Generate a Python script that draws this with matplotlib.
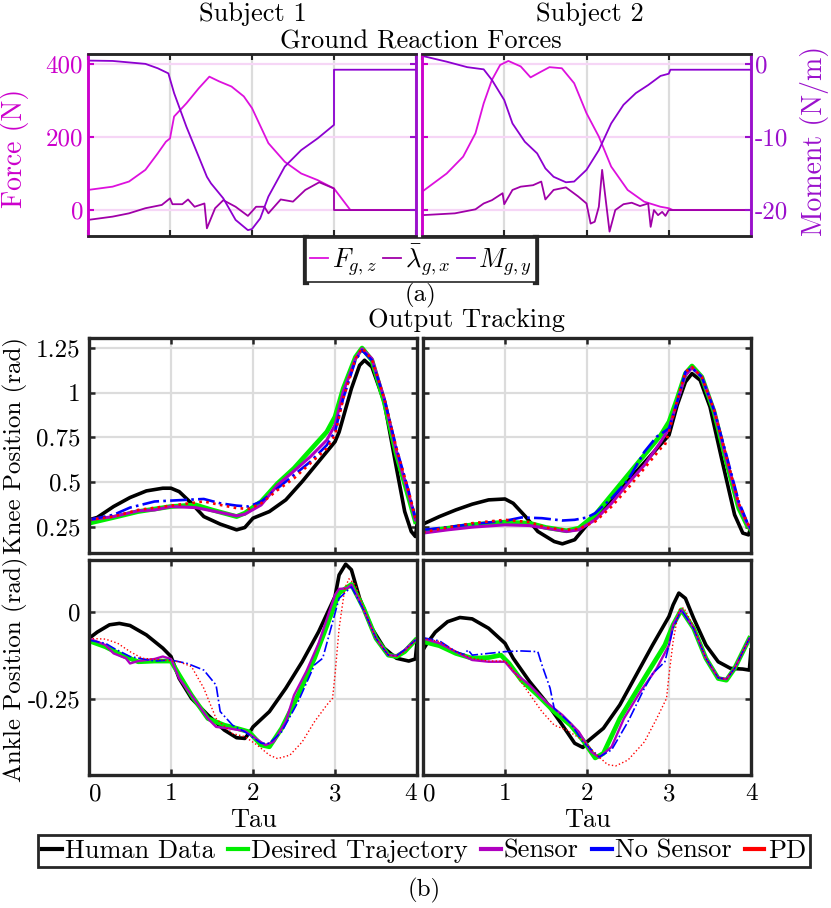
import matplotlib
matplotlib.use("Agg")
import matplotlib.pyplot as plt
from matplotlib.lines import Line2D
from matplotlib.ticker import FuncFormatter

plt.rcParams['font.family'] = ['cmr10', 'DejaVu Serif']
plt.rcParams['mathtext.fontset'] = 'cm'
plt.rcParams['axes.unicode_minus'] = False

# ---------------- (a) ground reaction forces ----------------
s1_fz_t = [0, 0.3, 0.5, 0.7, 0.85, 0.95, 1.0, 1.05, 1.2, 1.35, 1.48, 1.6, 1.75, 1.9, 2.0, 2.2, 2.4, 2.6, 2.8, 3.0, 3.2, 4.0]
s1_fz = [55, 64, 78, 110, 155, 187, 196, 256, 292, 333, 365, 352, 338, 311, 279, 183, 132, 100, 82, 59, 0, 0]
s1_lam_t = [0, 0.3, 0.5, 0.7, 0.9, 1.0, 1.03, 1.15, 1.22, 1.3, 1.42, 1.45, 1.55, 1.65, 1.8, 1.95, 2.05, 2.15,
            2.2, 2.35, 2.5, 2.65, 2.82, 3.0, 3.0, 4.0]
s1_lam = [-27, -18, -9, 5, 14, 32, 16, 16, 29, 9, 18, -50, 5, 27, 9, -16, 9, 9, -9, 29, 23, 55, 76, 59, 0, 0]
s1_mg_t = [0, 0.3, 0.5, 0.7, 0.85, 0.98, 1.05, 1.2, 1.35, 1.45, 1.5, 1.65, 1.8, 1.95, 2.0, 2.1, 2.2, 2.4, 2.6,
           2.8, 3.0, 3.0, 4.0]
s1_mg = [0.45, 0.4, 0.2, 0.0, -0.6, -1.3, -4.0, -8.6, -12.7, -15.45, -16.35, -18.4, -21.35, -22.75, -22.6,
         -21.15, -18.15, -14.05, -11.8, -10.2, -8.35, -0.8, -0.8]

s2_fz_t = [0, 0.3, 0.5, 0.65, 0.75, 0.85, 0.95, 1.05, 1.2, 1.32, 1.45, 1.55, 1.7, 1.85, 2.0, 2.15, 2.3, 2.5,
           2.7, 2.9, 3.0, 3.05, 4.0]
s2_fz = [50, 100, 146, 210, 292, 356, 397, 408, 393, 363, 379, 391, 388, 347, 265, 201, 119, 55, 23, 9, 5, 0, 0]
s2_lam_t = [0, 0.4, 0.65, 0.75, 0.85, 0.98, 1.0, 1.1, 1.2, 1.35, 1.45, 1.5, 1.6, 1.75, 1.9, 2.0, 2.05, 2.1,
            2.15, 2.19, 2.28, 2.35, 2.45, 2.55, 2.65, 2.75, 2.78, 2.82, 2.87, 2.92, 2.96, 3.0, 4.0]
s2_lam = [-14, -9, 2, 18, 27, 46, 16, 55, 64, 68, 78, 29, 55, 62, 37, 18, -37, -32, 9, 110, -59, 0, 16, 20,
          11, 18, -46, 0, -14, -5, -16, 0, 0]
s2_mg_t = [0, 0.3, 0.55, 0.75, 0.85, 1.0, 1.1, 1.25, 1.4, 1.5, 1.6, 1.75, 1.85, 2.0, 2.15, 2.3, 2.45, 2.6,
           2.75, 2.9, 3.0, 3.02, 4.0]
s2_mg = [1.1, 0.3, -0.45, -0.75, -2.2, -4.95, -8.15, -10.65, -12.25, -14.3, -15.45, -16.2, -16.1, -14.5,
         -11.8, -8.15, -5.6, -4.0, -2.9, -1.65, -1.35, -0.8, -0.8]

# ---------------- (b) knee tracking ----------------
k1_hum_t = [0, 0.1, 0.3, 0.5, 0.7, 0.9, 1.0, 1.1, 1.25, 1.4, 1.6, 1.8, 1.9, 2.0, 2.2, 2.4, 2.6, 2.8, 3.0, 3.05,
            3.2, 3.3, 3.36, 3.45, 3.6, 3.75, 3.85, 3.93, 3.98, 4.0]
k1_hum = [0.291, 0.304, 0.365, 0.415, 0.452, 0.467, 0.467, 0.448, 0.383, 0.309, 0.267, 0.235, 0.248, 0.30,
          0.337, 0.402, 0.504, 0.615, 0.726, 0.78, 1.022, 1.152, 1.18, 1.143, 0.948, 0.578, 0.337, 0.226,
          0.198, 0.263]
k1_des_t = [0, 0.3, 0.6, 1.0, 1.3, 1.5, 1.8, 1.9, 2.1, 2.3, 2.5, 2.7, 2.9, 3.0, 3.1, 3.25, 3.33, 3.45, 3.6,
            3.75, 3.9, 3.98]
k1_des = [0.272, 0.304, 0.337, 0.365, 0.374, 0.346, 0.309, 0.328, 0.393, 0.494, 0.578, 0.68, 0.781, 0.865,
          1.022, 1.198, 1.248, 1.18, 0.948, 0.652, 0.411, 0.281]
k1_sen_t = [0, 0.3, 0.6, 0.8, 1.0, 1.3, 1.5, 1.8, 1.9, 2.1, 2.3, 2.5, 2.7, 2.9, 3.0, 3.1, 3.25, 3.33, 3.45,
            3.6, 3.75, 3.9, 3.98]
k1_sen = [0.291, 0.309, 0.341, 0.346, 0.365, 0.359, 0.341, 0.313, 0.322, 0.374, 0.485, 0.563, 0.643, 0.735,
          0.819, 1.004, 1.189, 1.244, 1.189, 0.967, 0.67, 0.43, 0.291]
k1_nos_t = [0, 0.3, 0.5, 0.8, 1.0, 1.4, 1.6, 1.8, 1.95, 2.1, 2.3, 2.5, 2.7, 2.9, 3.0, 3.1, 3.25, 3.33, 3.45,
            3.6, 3.75, 3.9, 3.98]
k1_nos = [0.291, 0.319, 0.359, 0.393, 0.398, 0.407, 0.383, 0.37, 0.365, 0.393, 0.467, 0.541, 0.615, 0.707,
          0.781, 0.967, 1.18, 1.235, 1.18, 0.967, 0.689, 0.448, 0.30]
k1_pd_t = [0, 0.3, 0.6, 1.0, 1.4, 1.6, 1.8, 1.95, 2.1, 2.3, 2.5, 2.7, 2.9, 3.0, 3.1, 3.25, 3.33, 3.45, 3.6,
           3.75, 3.9, 3.98]
k1_pd = [0.291, 0.309, 0.346, 0.37, 0.393, 0.374, 0.356, 0.352, 0.383, 0.457, 0.522, 0.606, 0.689, 0.763,
         0.967, 1.189, 1.248, 1.185, 0.967, 0.689, 0.448, 0.30]

k2_hum_t = [0, 0.2, 0.4, 0.6, 0.8, 1.0, 1.1, 1.25, 1.4, 1.6, 1.7, 1.85, 2.0, 2.2, 2.4, 2.6, 2.8, 3.0, 3.1, 3.2,
            3.28, 3.38, 3.5, 3.65, 3.8, 3.9, 3.97, 4.0]
k2_hum = [0.267, 0.309, 0.346, 0.378, 0.402, 0.407, 0.383, 0.309, 0.226, 0.17, 0.157, 0.18, 0.263, 0.356,
          0.457, 0.559, 0.661, 0.763, 0.93, 1.059, 1.106, 1.069, 0.92, 0.615, 0.319, 0.217, 0.207, 0.254]
k2_des_t = [0, 0.3, 0.6, 1.0, 1.3, 1.5, 1.75, 1.9, 2.1, 2.3, 2.5, 2.7, 2.9, 3.0, 3.1, 3.2, 3.28, 3.4, 3.55,
            3.7, 3.85, 3.95, 4.0]
k2_des = [0.226, 0.244, 0.263, 0.278, 0.272, 0.248, 0.23, 0.244, 0.319, 0.43, 0.541, 0.652, 0.763, 0.837,
          0.967, 1.106, 1.148, 1.087, 0.893, 0.615, 0.356, 0.263, 0.235]
k2_sen_t = [0, 0.3, 0.6, 1.0, 1.3, 1.5, 1.75, 1.9, 2.1, 2.3, 2.5, 2.7, 2.9, 3.0, 3.1, 3.2, 3.28, 3.4, 3.55,
            3.7, 3.85, 3.95, 4.0]
k2_sen = [0.217, 0.235, 0.25, 0.263, 0.259, 0.244, 0.226, 0.235, 0.291, 0.383, 0.494, 0.596, 0.726, 0.80,
          0.948, 1.096, 1.139, 1.087, 0.902, 0.633, 0.374, 0.272, 0.235]
k2_nos_t = [0, 0.3, 0.6, 1.0, 1.2, 1.45, 1.7, 1.85, 2.0, 2.1, 2.3, 2.5, 2.7, 2.85, 3.0, 3.1, 3.2, 3.28, 3.4,
            3.55, 3.7, 3.85, 3.95, 4.0]
k2_nos = [0.235, 0.25, 0.267, 0.285, 0.304, 0.30, 0.287, 0.291, 0.304, 0.328, 0.411, 0.513, 0.67, 0.754, 0.80,
          0.948, 1.115, 1.137, 1.087, 0.902, 0.652, 0.393, 0.281, 0.241]
k2_pd_t = [0, 0.3, 0.6, 1.0, 1.3, 1.5, 1.75, 1.9, 2.1, 2.3, 2.5, 2.7, 2.9, 2.95, 3.0, 3.1, 3.2, 3.28, 3.4,
           3.55, 3.7, 3.85, 3.95, 4.0]
k2_pd = [0.222, 0.248, 0.272, 0.291, 0.278, 0.248, 0.235, 0.241, 0.281, 0.365, 0.467, 0.578, 0.689, 0.707,
         0.781, 0.957, 1.115, 1.143, 1.087, 0.902, 0.643, 0.383, 0.278, 0.241]

# ---------------- (b) ankle tracking ----------------
a1_hum_t = [0, 0.1, 0.25, 0.37, 0.5, 0.7, 0.9, 1.0, 1.1, 1.25, 1.45, 1.65, 1.8, 1.9, 1.95, 2.0, 2.2, 2.4, 2.6,
            2.8, 3.0, 3.05, 3.13, 3.2, 3.3, 3.45, 3.6, 3.75, 3.9, 3.98, 4.0]
a1_hum = [-0.075, -0.057, -0.036, -0.032, -0.038, -0.065, -0.103, -0.127, -0.19, -0.247, -0.295, -0.338,
          -0.36, -0.362, -0.348, -0.329, -0.285, -0.218, -0.142, -0.056, 0.045, 0.107, 0.138, 0.122, 0.04,
          -0.046, -0.103, -0.132, -0.14, -0.134, -0.086]
a1_des_t = [0, 0.2, 0.4, 0.6, 0.8, 1.0, 1.1, 1.25, 1.45, 1.65, 1.8, 1.95, 2.1, 2.2, 2.35, 2.55, 2.75, 2.95,
            3.05, 3.2, 3.35, 3.5, 3.65, 3.75, 3.85, 3.98]
a1_des = [-0.082, -0.099, -0.123, -0.142, -0.14, -0.14, -0.18, -0.238, -0.305, -0.324, -0.333, -0.343,
          -0.381, -0.386, -0.333, -0.238, -0.132, -0.008, 0.055, 0.08, 0.011, -0.075, -0.123, -0.127,
          -0.113, -0.08]
a1_sen_t = [0, 0.2, 0.3, 0.45, 0.5, 0.6, 0.8, 0.9, 1.0, 1.1, 1.25, 1.45, 1.55, 1.7, 1.9, 2.0, 2.15, 2.25,
            2.4, 2.5, 2.65, 2.8, 3.0, 3.05, 3.15, 3.2, 3.35, 3.5, 3.65, 3.75, 3.85, 3.98]
a1_sen = [-0.075, -0.094, -0.118, -0.132, -0.147, -0.14, -0.134, -0.127, -0.134, -0.19, -0.238, -0.305,
          -0.329, -0.333, -0.341, -0.357, -0.381, -0.372, -0.314, -0.238, -0.17, -0.089, 0.05, 0.067,
          0.069, 0.079, 0.007, -0.075, -0.123, -0.125, -0.108, -0.08]
a1_nos_t = [0, 0.2, 0.3, 0.5, 0.8, 1.0, 1.2, 1.4, 1.55, 1.6, 1.75, 1.9, 2.1, 2.2, 2.35, 2.55, 2.75, 2.85,
            2.95, 3.05, 3.2, 3.35, 3.5, 3.65, 3.75, 3.85, 3.98]
a1_nos = [-0.08, -0.089, -0.103, -0.127, -0.14, -0.137, -0.147, -0.166, -0.209, -0.285, -0.324, -0.343,
          -0.376, -0.376, -0.343, -0.257, -0.151, -0.132, -0.046, 0.04, 0.073, 0.007, -0.075, -0.123,
          -0.125, -0.108, -0.08]
a1_pd_t = [0, 0.2, 0.35, 0.5, 0.65, 0.9, 1.1, 1.25, 1.4, 1.55, 1.75, 1.9, 2.05, 2.2, 2.3, 2.45, 2.6, 2.75,
           2.9, 2.97, 3.0, 3.05, 3.12, 3.17, 3.25, 3.35, 3.5, 3.65, 3.75, 3.85, 3.98]
a1_pd = [-0.075, -0.077, -0.089, -0.113, -0.132, -0.137, -0.142, -0.156, -0.218, -0.305, -0.348, -0.357,
         -0.381, -0.41, -0.42, -0.41, -0.372, -0.314, -0.266, -0.247, -0.18, -0.046, 0.069, 0.096, 0.079,
         0.011, -0.075, -0.123, -0.127, -0.113, -0.08]

a2_hum_t = [0, 0.05, 0.15, 0.3, 0.45, 0.6, 0.8, 1.0, 1.1, 1.3, 1.5, 1.7, 1.85, 1.95, 2.0, 2.2, 2.4, 2.6, 2.8,
            3.0, 3.05, 3.12, 3.2, 3.3, 3.45, 3.6, 3.75, 3.9, 3.98, 4.0]
a2_hum = [-0.108, -0.089, -0.057, -0.027, -0.015, -0.019, -0.046, -0.089, -0.132, -0.199, -0.257, -0.324,
          -0.376, -0.388, -0.372, -0.333, -0.266, -0.18, -0.094, -0.012, 0.021, 0.055, 0.04, -0.017,
          -0.094, -0.142, -0.161, -0.163, -0.166, -0.108]
a2_des_t = [0, 0.2, 0.4, 0.6, 0.8, 0.95, 1.05, 1.2, 1.4, 1.6, 1.8, 1.95, 2.1, 2.2, 2.4, 2.55, 2.75, 2.95,
            3.05, 3.15, 3.3, 3.45, 3.6, 3.7, 3.8, 3.98]
a2_des = [-0.084, -0.096, -0.118, -0.132, -0.13, -0.123, -0.147, -0.195, -0.238, -0.285, -0.324, -0.367,
          -0.418, -0.405, -0.305, -0.247, -0.17, -0.094, -0.036, 0.007, -0.046, -0.132, -0.19, -0.195,
          -0.161, -0.075]
a2_sen_t = [0, 0.2, 0.4, 0.6, 0.8, 1.0, 1.1, 1.3, 1.5, 1.7, 1.9, 2.05, 2.15, 2.3, 2.45, 2.65, 2.85, 3.0, 3.05,
            3.15, 3.3, 3.45, 3.6, 3.7, 3.8, 3.98]
a2_sen = [-0.075, -0.089, -0.113, -0.137, -0.142, -0.142, -0.17, -0.209, -0.257, -0.295, -0.343, -0.40,
          -0.417, -0.386, -0.305, -0.228, -0.161, -0.094, -0.036, 0.007, -0.046, -0.132, -0.188, -0.192,
          -0.161, -0.075]
a2_nos_t = [0, 0.2, 0.4, 0.5, 0.55, 0.6, 0.8, 1.0, 1.2, 1.4, 1.45, 1.55, 1.6, 1.8, 1.95, 2.15, 2.3, 2.5, 2.7,
            2.8, 2.95, 3.05, 3.15, 3.3, 3.45, 3.6, 3.7, 3.8, 3.98]
a2_nos = [-0.073, -0.082, -0.113, -0.121, -0.108, -0.123, -0.118, -0.113, -0.111, -0.113, -0.151, -0.218,
          -0.276, -0.319, -0.372, -0.415, -0.395, -0.314, -0.218, -0.176, -0.142, -0.046, 0.007, -0.046,
          -0.132, -0.188, -0.192, -0.161, -0.075]
a2_pd_t = [0, 0.2, 0.4, 0.6, 0.8, 1.0, 1.1, 1.25, 1.45, 1.6, 1.75, 1.95, 2.1, 2.25, 2.35, 2.5, 2.7, 2.85, 2.97,
           3.0, 3.05, 3.12, 3.18, 3.3, 3.45, 3.6, 3.7, 3.8, 3.98]
a2_pd = [-0.075, -0.084, -0.113, -0.132, -0.14, -0.14, -0.166, -0.218, -0.285, -0.324, -0.338, -0.367,
         -0.405, -0.437, -0.441, -0.424, -0.372, -0.305, -0.247, -0.18, -0.084, 0.007, 0.013, -0.041,
         -0.132, -0.188, -0.192, -0.161, -0.075]

tau_ticks = [0, 1, 2, 3, 4]
force_ticks = [0, 200, 400]
moment_ticks = [-20, -10, 0]
knee_ticks = [0.25, 0.5, 0.75, 1, 1.25]
ankle_ticks = [-0.25, 0]
series_names = ['Human Data', 'Desired Trajectory', 'Sensor', 'No Sensor', 'PD']

W, H = 831, 908
FS = 18
C_FZ, C_LAM, C_MG = '#DD10DD', '#A000A8', '#8C00D0'
C_LEFT, C_RIGHT = '#CC00CC', '#9A10CC'
EDGE = '#262626'

fig = plt.figure(figsize=(W / 100, H / 100), dpi=100)


def add_px_axes(x0, y0, x1, y1):
    return fig.add_axes([x0 / W, 1 - y1 / H, (x1 - x0) / W, (y1 - y0) / H])


fmt = FuncFormatter(lambda v, p: '%g' % v)

# ---- top row ----
grf_lines = None
for col, (x0, x1) in enumerate([(88, 416), (422, 751)]):
    ax = add_px_axes(x0, 54, x1, 236)
    if col == 0:
        fz_t, fz, lam_t, lam, mg_t, mg = s1_fz_t, s1_fz, s1_lam_t, s1_lam, s1_mg_t, s1_mg
    else:
        fz_t, fz, lam_t, lam, mg_t, mg = s2_fz_t, s2_fz, s2_lam_t, s2_lam, s2_mg_t, s2_mg
    l1, = ax.plot(fz_t, fz, color=C_FZ, lw=1.3, label=r'$F_{g,z}$')
    l2, = ax.plot(lam_t, lam, color=C_LAM, lw=1.3, label=r'$\bar{\lambda}_{g,x}$')
    ax.set_xlim(0, 4)
    ax.set_ylim(-71, 427)
    ax.set_xticks(tau_ticks)
    ax.set_yticks(force_ticks)
    ax.yaxis.set_major_formatter(fmt)
    ax.tick_params(axis='x', direction='in', labelbottom=False, top=True, length=4, width=1.5, color=EDGE)
    ax.tick_params(axis='y', direction='in', colors=C_LEFT, length=4, width=1.5, labelsize=FS)
    ax.xaxis.grid(True, color='#DCDCDC', lw=1.6)
    ax.yaxis.grid(True, color='#F6D6F6', lw=1.6)
    ax.set_axisbelow(True)
    ax2 = ax.twinx()
    l3, = ax2.plot(mg_t, mg, color=C_MG, lw=1.3, label=r'$M_{g,y}$')
    ax2.set_ylim(-71 / 20 - 20, 427 / 20 - 20)
    ax2.set_yticks(moment_ticks)
    ax2.yaxis.set_major_formatter(fmt)
    ax2.tick_params(axis='y', direction='in', colors=C_RIGHT, length=4, width=1.5, labelsize=FS, pad=3)
    for a in (ax, ax2):
        a.spines['top'].set_color(EDGE)
        a.spines['bottom'].set_color(EDGE)
        a.spines['top'].set_linewidth(1.8)
        a.spines['bottom'].set_linewidth(1.8)
        a.spines['left'].set_color(C_LEFT)
        a.spines['right'].set_color(C_RIGHT)
        a.spines['left'].set_linewidth(1.8)
        a.spines['right'].set_linewidth(1.8)
    if col == 0:
        ax.set_ylabel('Force (N)', color=C_LEFT, fontsize=FS + 2)
        ax.yaxis.set_label_coords((29 - x0) / (x1 - x0), 0.48)
        ax2.tick_params(axis='y', labelright=False)
    else:
        ax.tick_params(axis='y', labelleft=False)
        ax2.set_ylabel('Moment (N/m)', color=C_RIGHT, fontsize=FS + 2)
        ax2.yaxis.set_label_coords((800 - x0) / (x1 - x0), 0.52)
    grf_lines = [l1, l2, l3]

fig.text(253 / W, 1 - 14 / H, 'Subject 1', ha='center', va='center', fontsize=FS + 1)
fig.text(590 / W, 1 - 14 / H, 'Subject 2', ha='center', va='center', fontsize=FS + 1)
fig.text(421 / W, 1 - 42 / H, 'Ground Reaction Forces', ha='center', va='center', fontsize=FS + 1)
leg_a = fig.legend(handles=grf_lines, loc='center', bbox_to_anchor=(421 / W, 1 - 260 / H), ncol=3,
                   fontsize=FS + 1, handlelength=0.7, handletextpad=0.12, columnspacing=0.25,
                   borderpad=0.15, borderaxespad=0, fancybox=False, framealpha=1)
leg_a.get_frame().set_edgecolor(EDGE)
leg_a.get_frame().set_linewidth(1.2)
fig.text(421 / W, 1 - 295 / H, '(a)', ha='center', va='center', fontsize=FS)

# ---- knee / ankle ----
fig.text(466 / W, 1 - 320 / H, 'Output Tracking', ha='center', va='center', fontsize=FS + 1)

styles = [dict(color='black', lw=2.6, ls='-'),
          dict(color='#00EE00', lw=3.4, ls='-'),
          dict(color='#B000C0', lw=2.2, ls='-'),
          dict(color='#0000FF', lw=1.9, ls='-.'),
          dict(color='#FF0000', lw=1.9, ls=':')]
styles_ankle = [dict(color='black', lw=2.6, ls='-'),
                dict(color='#00EE00', lw=3.4, ls='-'),
                dict(color='#B000C0', lw=1.7, ls='-'),
                dict(color='#0000FF', lw=1.2, ls='-.'),
                dict(color='#FF0000', lw=1.0, ls=':')]

knee_data = [
    [(k1_hum_t, k1_hum), (k1_des_t, k1_des), (k1_sen_t, k1_sen), (k1_nos_t, k1_nos), (k1_pd_t, k1_pd)],
    [(k2_hum_t, k2_hum), (k2_des_t, k2_des), (k2_sen_t, k2_sen), (k2_nos_t, k2_nos), (k2_pd_t, k2_pd)],
]
ankle_data = [
    [(a1_hum_t, a1_hum), (a1_des_t, a1_des), (a1_sen_t, a1_sen), (a1_nos_t, a1_nos), (a1_pd_t, a1_pd)],
    [(a2_hum_t, a2_hum), (a2_des_t, a2_des), (a2_sen_t, a2_sen), (a2_nos_t, a2_nos), (a2_pd_t, a2_pd)],
]


def style_axes(ax):
    for s in ax.spines.values():
        s.set_color(EDGE)
        s.set_linewidth(2.4)
    ax.tick_params(direction='in', top=True, right=True, length=4, width=1.8, color=EDGE,
                   labelsize=FS, pad=6)
    ax.grid(True, color='#DCDCDC', lw=1.6)
    ax.set_axisbelow(True)


for col, (x0, x1) in enumerate([(89, 417), (423, 751)]):
    axk = add_px_axes(x0, 338, x1, 553)
    for (t, v), st, name in zip(knee_data[col], styles, series_names):
        axk.plot(t, v, label=name, **st)
    axk.set_xlim(0, 4)
    axk.set_ylim(0.106, 1.304)
    axk.set_xticks(tau_ticks)
    axk.set_yticks(knee_ticks)
    axk.yaxis.set_major_formatter(fmt)
    style_axes(axk)
    axk.tick_params(labelbottom=False)

    axa = add_px_axes(x0, 560, x1, 775)
    for (t, v), st, name in zip(ankle_data[col], styles_ankle, series_names):
        axa.plot(t, v, label=name, **st)
    axa.set_xlim(0, 4)
    axa.set_ylim(-0.467, 0.150)
    axa.set_xticks(tau_ticks)
    axa.set_yticks(ankle_ticks)
    axa.yaxis.set_major_formatter(fmt)
    style_axes(axa)
    axa.set_xlabel('Tau', fontsize=FS + 1, labelpad=2)
    xt = axa.get_xticklabels()
    if col == 0:
        xt[-1].set_horizontalalignment('right')
        xt[0].set_horizontalalignment('left')
        axk.set_ylabel('Knee Position (rad)', fontsize=FS)
        axk.yaxis.set_label_coords((28 - x0) / (x1 - x0), 0.5)
        axa.set_ylabel('Ankle Position (rad)', fontsize=FS)
        axa.yaxis.set_label_coords((28 - x0) / (x1 - x0), 0.49)
    else:
        xt[0].set_horizontalalignment('left')
        axk.tick_params(labelleft=False)
        axa.tick_params(labelleft=False)

leg_handles = [Line2D([], [], color=st['color'], lw=3) for st in styles]
leg_b = fig.legend(handles=leg_handles, labels=series_names, loc='center',
                   bbox_to_anchor=(424 / W, 1 - 851 / H), ncol=5, fontsize=FS + 1,
                   handlelength=0.75, handletextpad=0.12, columnspacing=0.5,
                   borderpad=0.15, borderaxespad=0, fancybox=False, framealpha=1)
leg_b.get_frame().set_edgecolor(EDGE)
leg_b.get_frame().set_linewidth(2.0)
fig.text(424 / W, 1 - 890 / H, '(b)', ha='center', va='center', fontsize=FS)

# thick dark sides on legend (a), as in the source figure
fig.canvas.draw()
bb = leg_a.get_window_extent().transformed(fig.transFigure.inverted())
for xs in (bb.x0, bb.x1):
    fig.add_artist(Line2D([xs, xs], [bb.y0, bb.y1], transform=fig.transFigure, color=EDGE, lw=4.5))

fig.savefig('out.png', dpi=100)
